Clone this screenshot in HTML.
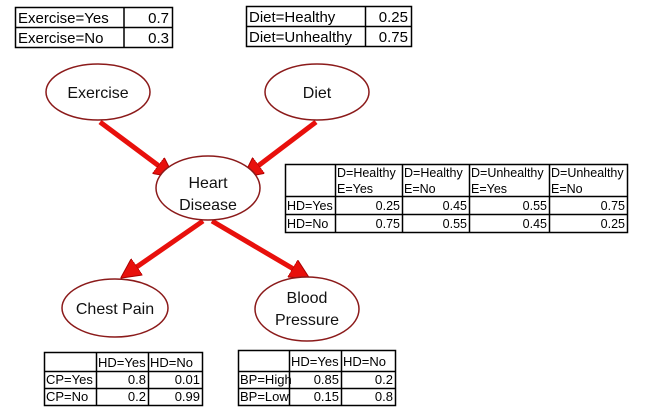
<!DOCTYPE html>
<html><head><meta charset="utf-8"><style>
html,body{margin:0;padding:0;background:#fff;}
svg{display:block;font-family:"Liberation Sans",Arial,sans-serif;}
.t{font-size:15px;fill:#000;}
.n{font-size:16px;fill:#111;}
</style></head><body>
<svg width="658" height="412" viewBox="0 0 658 412" xmlns="http://www.w3.org/2000/svg">
<defs>
<marker id="ah" markerWidth="4" markerHeight="4" refX="2.2" refY="2" orient="auto" markerUnits="strokeWidth">
<path d="M0,0 L4,2 L0,4 Z" fill="#e8100c" stroke="#a00" stroke-width="0.2"/>
</marker>
</defs>
<g fill="none" stroke="#000" stroke-width="1.5">
<rect x="15.5" y="7.5" width="157" height="40"/><line x1="15" y1="27.5" x2="172" y2="27.5"/><line x1="124" y1="7" x2="124" y2="47"/>
<rect x="246.5" y="6.5" width="165" height="40"/><line x1="246" y1="26.5" x2="411" y2="26.5"/><line x1="365.5" y1="6" x2="365.5" y2="46"/>
<rect x="285.5" y="164.5" width="342" height="68"/>
<line x1="285" y1="196.5" x2="627" y2="196.5"/><line x1="285" y1="214.5" x2="627" y2="214.5"/>
<line x1="335.5" y1="164" x2="335.5" y2="232"/><line x1="402.5" y1="164" x2="402.5" y2="232"/><line x1="469.5" y1="164" x2="469.5" y2="232"/><line x1="549.5" y1="164" x2="549.5" y2="232"/>
<rect x="44.5" y="352.5" width="158" height="53"/>
<line x1="44" y1="371.5" x2="202" y2="371.5"/><line x1="44" y1="388.5" x2="202" y2="388.5"/>
<line x1="96.5" y1="352" x2="96.5" y2="405"/><line x1="148.5" y1="352" x2="148.5" y2="405"/>
<rect x="238.5" y="350.5" width="157" height="55"/>
<line x1="238" y1="371.5" x2="395" y2="371.5"/><line x1="238" y1="388.5" x2="395" y2="388.5"/>
<line x1="289.5" y1="350" x2="289.5" y2="405"/><line x1="341.5" y1="350" x2="341.5" y2="405"/>
</g>
<g class="t">
<text x="18" y="23">Exercise=Yes</text><text x="169" y="23" text-anchor="end">0.7</text>
<text x="18" y="43">Exercise=No</text><text x="169" y="43" text-anchor="end">0.3</text>
<text x="249" y="22">Diet=Healthy</text><text x="408" y="22" text-anchor="end">0.25</text>
<text x="249" y="42">Diet=Unhealthy</text><text x="408" y="42" text-anchor="end">0.75</text>
<g font-size="12.5">
<text x="337" y="177">D=Healthy</text><text x="337" y="193">E=Yes</text>
<text x="404" y="177">D=Healthy</text><text x="404" y="193">E=No</text>
<text x="471" y="177">D=Unhealthy</text><text x="471" y="193">E=Yes</text>
<text x="551" y="177">D=Unhealthy</text><text x="551" y="193">E=No</text>
<text x="287" y="210">HD=Yes</text><text x="287" y="228">HD=No</text>
<text x="400" y="210" text-anchor="end">0.25</text><text x="467" y="210" text-anchor="end">0.45</text><text x="547" y="210" text-anchor="end">0.55</text><text x="625" y="210" text-anchor="end">0.75</text>
<text x="400" y="228" text-anchor="end">0.75</text><text x="467" y="228" text-anchor="end">0.55</text><text x="547" y="228" text-anchor="end">0.45</text><text x="625" y="228" text-anchor="end">0.25</text>
</g>
<g font-size="13">
<text x="98" y="367">HD=Yes</text><text x="150" y="367">HD=No</text>
<text x="46" y="384">CP=Yes</text><text x="146" y="384" text-anchor="end">0.8</text><text x="200" y="384" text-anchor="end">0.01</text>
<text x="46" y="401">CP=No</text><text x="146" y="401" text-anchor="end">0.2</text><text x="200" y="401" text-anchor="end">0.99</text>
<text x="291" y="366">HD=Yes</text><text x="343" y="366">HD=No</text>
<text x="240" y="384">BP=High</text><text x="339" y="384" text-anchor="end">0.85</text><text x="393" y="384" text-anchor="end">0.2</text>
<text x="240" y="401">BP=Low</text><text x="339" y="401" text-anchor="end">0.15</text><text x="393" y="401" text-anchor="end">0.8</text>
</g>
</g>
<g stroke="#e8100c" stroke-width="5" fill="none">
<line x1="100" y1="122" x2="167" y2="172" marker-end="url(#ah)"/>
<line x1="316" y1="122" x2="250" y2="172" marker-end="url(#ah)"/>
<line x1="203" y1="221" x2="128" y2="273" marker-end="url(#ah)"/>
<line x1="212" y1="221" x2="302" y2="274" marker-end="url(#ah)"/>
</g>
<g fill="#fff" stroke="#8b1a1a" stroke-width="1.5">
<ellipse cx="98" cy="92" rx="52" ry="28"/>
<ellipse cx="317" cy="92" rx="52" ry="28"/>
<ellipse cx="208" cy="188" rx="52" ry="32"/>
<ellipse cx="115" cy="308" rx="53" ry="29"/>
<ellipse cx="307" cy="309" rx="52" ry="32"/>
</g>
<g class="n" text-anchor="middle">
<text x="98" y="98">Exercise</text>
<text x="317" y="98">Diet</text>
<text x="208" y="188">Heart</text><text x="208" y="210">Disease</text>
<text x="115" y="314">Chest Pain</text>
<text x="307" y="303">Blood</text><text x="307" y="325">Pressure</text>
</g>
</svg>
</body></html>
